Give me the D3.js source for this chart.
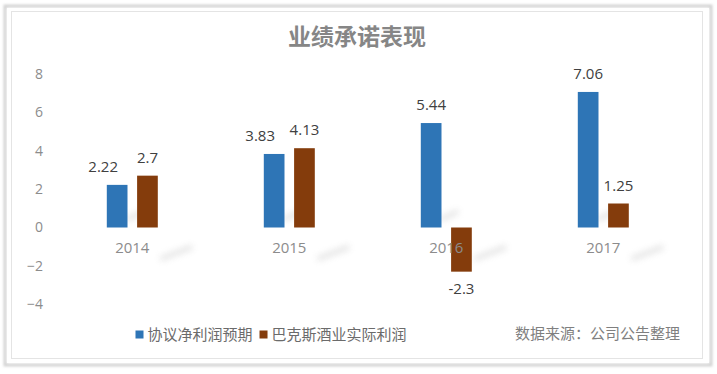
<!DOCTYPE html>
<html><head><meta charset="utf-8">
<script src="https://cdn.jsdelivr.net/npm/d3@7"></script>
<style>
html,body{margin:0;padding:0;background:#fff;}
svg{display:block;}
text{font-family:"Microsoft YaHei","Noto Sans CJK SC","Noto Sans",sans-serif;}
.num{font-family:"Open Sans","Noto Sans",sans-serif;}
</style></head>
<body>
<svg id="chart" width="717" height="374"></svg>
<script>
const title = "业绩承诺表现";
const categories = ["2014", "2015", "2016", "2017"];
const seriesNames = ["协议净利润预期", "巴克斯酒业实际利润"];
const expected = [2.22, 3.83, 5.44, 7.06];
const actual = [2.7, 4.13, -2.3, 1.25];
const seriesColors = ["#2e75b6", "#843c0c"];
const yTicks = [-4, -2, 0, 2, 4, 6, 8];
const sourceNote = "数据来源：公司公告整理";

const svg = d3.select("#chart");

// frame
const defs = svg.append("defs");
const blur = defs.append("filter").attr("id","blur").attr("x","-50%").attr("y","-100%").attr("width","200%").attr("height","300%");
blur.append("feGaussianBlur").attr("stdDeviation", 3);
const blur2 = defs.append("filter").attr("id","blur2").attr("x","-10%").attr("y","-10%").attr("width","120%").attr("height","120%");
blur2.append("feGaussianBlur").attr("stdDeviation", 1.2);

svg.append("rect").attr("x",5).attr("y",6).attr("width",706).attr("height",359)
  .attr("fill","none").attr("stroke","#d4d4d4").attr("stroke-width",3).attr("filter","url(#blur2)");
svg.append("rect").attr("x",7).attr("y",8).attr("width",702).attr("height",355).attr("fill","#fff");
svg.append("rect").attr("x",11.5).attr("y",11.5).attr("width",691).attr("height",347)
  .attr("fill","#fff").attr("stroke","#e4e4e4").attr("stroke-width",1);

const y = d3.scaleLinear().domain([-4, 8]).range([304.3, 73.9]);
const x0 = d3.scaleBand().domain(categories).range([53.8, 681.8]).padding(0);
const groupW = 51;
const x1 = d3.scaleBand().domain([0,1]).range([0, groupW]).paddingInner(0.317).paddingOuter(0);

// title
svg.append("text").attr("x", 357).attr("y", 45).attr("text-anchor","middle")
  .attr("font-size", 23).attr("font-weight", 700).attr("fill", "#868686").text(title);

// decorative soft shadows
const g0 = svg.append("g").attr("filter","url(#blur)").attr("stroke","#c4c4c4").attr("stroke-linecap","round").attr("opacity",0.45);
categories.forEach((c,i) => {
  const cx = x0(c) + x0.bandwidth()/2;
  g0.append("line").attr("x1", cx + 30).attr("y1", y(-1.6)).attr("x2", cx + 58).attr("y2", y(-1.05)).attr("stroke-width", 5);
  g0.append("line").attr("x1", cx - 4).attr("y1", y(0.45)).attr("x2", cx + 10).attr("y2", y(0.8)).attr("stroke-width", 5);
});

// y axis labels
const yAxis = d3.axisLeft(y).tickValues(yTicks).tickSize(0).tickPadding(0).tickFormat(d3.format("d"));
const ya = svg.append("g").attr("transform","translate(43,0)").call(yAxis);
ya.select(".domain").remove();
ya.selectAll("text").attr("class","num").attr("font-size", 14).attr("fill", "#8c8c8c")
  .style("font-family", '"Open Sans","Noto Sans",sans-serif');

// bars
const data = categories.map((c,i) => ({cat:c, vals:[expected[i], actual[i]]}));
const groups = svg.append("g").selectAll("g").data(data).join("g")
  .attr("transform", d => `translate(${x0(d.cat) + x0.bandwidth()/2 - groupW/2},0)`);
groups.selectAll("rect").data(d => d.vals.map((v,k)=>({v,k}))).join("rect")
  .attr("x", d => x1(d.k)).attr("width", x1.bandwidth())
  .attr("y", d => y(Math.max(0,d.v))).attr("height", d => Math.abs(y(d.v) - y(0)))
  .attr("fill", d => seriesColors[d.k]);

// category labels
const xa = d3.axisBottom(x0).tickSize(0).tickPadding(0);
const xg = svg.append("g").attr("transform", `translate(0,${y(0)})`).call(xa);
xg.select(".domain").remove();
xg.selectAll("text").attr("dy", null).attr("y", 25).attr("font-size", 15).attr("fill", "#8c8c8c")
  .style("font-family", '"Open Sans","Noto Sans",sans-serif');

// value labels
groups.each(function(d){
  const g = d3.select(this);
  d.vals.forEach((v,k) => {
    let dx = 0;
    if (k === 0 && d.vals[1] > 0 && Math.abs(d.vals[0]-d.vals[1]) < 1) dx = -14;
    const yy = v >= 0 ? y(v) - 13 : y(v) + 22;
    g.append("text").attr("x", x1(k) + x1.bandwidth()/2 + dx).attr("y", yy)
      .attr("text-anchor","middle").attr("font-size", 15).attr("fill", "#404040")
      .style("font-family", '"Open Sans","Noto Sans",sans-serif')
      .text(v);
  });
});

// legend
const leg = svg.append("g");
let lx = 135.5;
seriesNames.forEach((n,k) => {
  leg.append("rect").attr("x", lx).attr("y", 330.5).attr("width", 8).attr("height", 8).attr("fill", seriesColors[k]);
  const t = leg.append("text").attr("x", lx + 12).attr("y", 340).attr("font-size", 15).attr("fill", "#6b6b6b").text(n);
  lx += 12 + t.node().getComputedTextLength() + 7;
});

svg.append("text").attr("x", 680).attr("y", 339).attr("text-anchor","end")
  .attr("font-size", 15).attr("fill", "#7f7f7f").text(sourceNote);
</script>
</body></html>
